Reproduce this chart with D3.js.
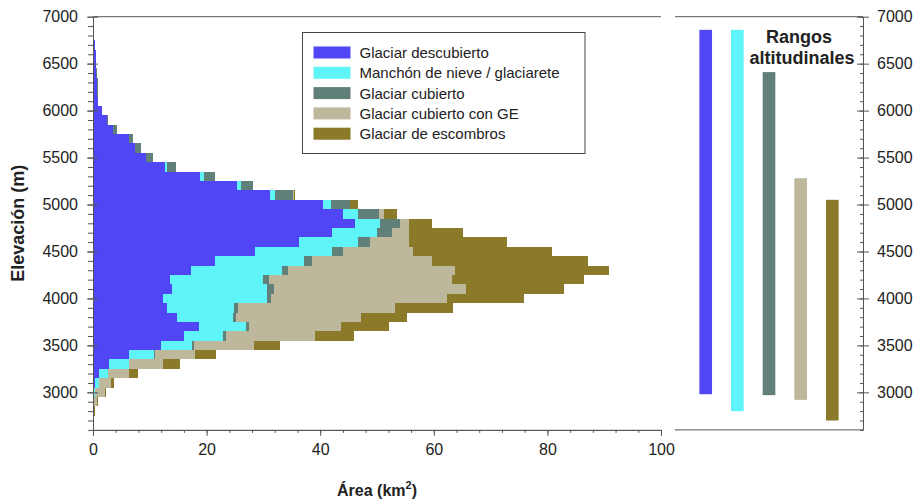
<!DOCTYPE html>
<html>
<head>
<meta charset="utf-8">
<script src="https://cdn.jsdelivr.net/npm/d3@7"></script>
<style>
  body { margin: 0; background: #fff; }
  svg text { font-family: "Liberation Sans", Arial, sans-serif; fill: #222; }
</style>
</head>
<body>
<svg id="chart" width="914" height="501"></svg>
<script>
// elevation bin centres (m), 100 m bins
const elevations = [2700, 2800, 2900, 3000, 3100, 3200, 3300, 3400, 3500, 3600, 3700, 3800, 3900,
  4000, 4100, 4200, 4300, 4400, 4500, 4600, 4700, 4800, 4900, 5000, 5100, 5200, 5300, 5400,
  5500, 5600, 5700, 5800, 5900, 6000, 6100, 6200, 6300, 6400, 6500, 6600, 6700, 6800, 6900]
const binStep = 100

// areas in km2, same order as elevations
const descubierto = [0, 0, 0, 0.1, 0.4, 1.0, 2.9, 6.4, 12.0, 16.1, 18.6, 14.8, 13.1,
  12.4, 13.9, 13.5, 17.3, 21.5, 28.6, 36.2, 42.1, 46.2, 44.0, 40.5, 31.2, 25.3, 18.9, 12.7,
  9.4, 7.4, 6.3, 3.6, 2.4, 1.5, 0.8, 0.7, 0.7, 0.6, 0.6, 0.5, 0.3, 0.2, 0.1]
const manchon = [0, 0.1, 0, 0.2, 0.6, 1.7, 3.5, 4.4, 5.4, 6.8, 8.3, 9.8, 11.8,
  18.2, 16.7, 16.5, 16.0, 15.6, 13.5, 10.4, 7.9, 4.3, 2.6, 1.4, 0.9, 0.7, 0.7, 0.4,
  0, 0, 0, 0, 0, 0, 0, 0, 0, 0, 0, 0, 0, 0, 0]
const cubierto = [0, 0, 0, 0, 0.1, 0, 0, 0.1, 0.4, 0.5, 0.5, 0.6, 0.7,
  0.7, 1.2, 0.9, 1.1, 1.5, 2.0, 2.2, 2.6, 3.5, 3.7, 3.3, 3.1, 2.1, 1.8, 1.5,
  1.1, 1.0, 0.7, 0.7, 0.2, 0.1, 0.1, 0.1, 0.1, 0.1, 0, 0, 0, 0, 0]
const cubiertoGE = [0, 0.1, 0.7, 1.9, 2.0, 3.7, 6.0, 7.1, 10.6, 15.7, 16.3, 22.0, 27.5,
  31.0, 33.9, 32.3, 29.4, 21.0, 12.3, 6.8, 3.0, 1.6, 0.9, 0.1, 0.1, 0.1, 0, 0,
  0, 0, 0, 0, 0, 0, 0, 0, 0, 0, 0, 0, 0, 0, 0]
const escombros = [0.1, 0.1, 0.1, 0.1, 0.6, 1.6, 3.0, 3.7, 4.6, 6.8, 8.5, 8.0, 10.3,
  13.6, 17.3, 23.3, 27.0, 27.5, 24.4, 17.2, 9.6, 4.0, 2.4, 1.3, 0.3, 0, 0, 0,
  0, 0, 0, 0, 0, 0, 0, 0, 0, 0, 0, 0, 0, 0, 0]

const categories = ["Glaciar descubierto", "Manchón de nieve / glaciarete", "Glaciar cubierto",
  "Glaciar cubierto con GE", "Glaciar de escombros"]
const colors = ["#5146f6", "#5ef4f8", "#62807a", "#bdb89c", "#8b7a2a"]

// altitudinal ranges (m) per category
const rangeTop = [6860, 6860, 6410, 5280, 5050]
const rangeBottom = [2980, 2800, 2970, 2920, 2700]

const xTicks = [0, 20, 40, 60, 80, 100]
const yTicks = [3000, 3500, 4000, 4500, 5000, 5500, 6000, 6500, 7000]

const svg = d3.select("#chart")
const axisColor = "#555"

const x = d3.scaleLinear().domain([0, 100]).range([93, 661])
const y = d3.scaleLinear().domain([2600, 7000]).range([429.9, 16.7])
const xr = d3.scaleBand().domain(categories).range([675, 863]).paddingInner(0.6).paddingOuter(0.77)

// stacked table
const table = elevations.map((e, i) => ({
  elev: e,
  [categories[0]]: descubierto[i],
  [categories[1]]: manchon[i],
  [categories[2]]: cubierto[i],
  [categories[3]]: cubiertoGE[i],
  [categories[4]]: escombros[i]
}))
const series = d3.stack().keys(categories)(table)

const area = d3.area()
  .y(p => y(p.e))
  .x0(p => x(p.x0))
  .x1(p => x(p.x1))

series.forEach((s, k) => {
  const pts = []
  s.forEach(d => {
    pts.push({e: d.data.elev - binStep / 2, x0: d[0], x1: d[1]})
    pts.push({e: d.data.elev + binStep / 2, x0: d[0], x1: d[1]})
  })
  svg.append("path")
    .attr("d", area(pts))
    .attr("fill", colors[k])
    .attr("shape-rendering", "crispEdges")
})

// range bars
svg.selectAll("rect.range")
  .data(categories)
  .enter().append("rect")
  .attr("class", "range")
  .attr("x", d => xr(d))
  .attr("width", xr.bandwidth())
  .attr("y", (d, i) => y(rangeTop[i]))
  .attr("height", (d, i) => y(rangeBottom[i]) - y(rangeTop[i]))
  .attr("fill", (d, i) => colors[i])

// frame lines
svg.append("line").attr("x1", x(0)).attr("x2", x(100)).attr("y1", y(7000)).attr("y2", y(7000))
  .attr("stroke", axisColor)
svg.append("line").attr("x1", 675).attr("x2", 863).attr("y1", y(7000)).attr("y2", y(7000))
  .attr("stroke", axisColor)
svg.append("line").attr("x1", 675).attr("x2", 863).attr("y1", y(2600)).attr("y2", y(2600))
  .attr("stroke", axisColor)

function styleAxis(g) {
  g.select(".domain").attr("stroke", axisColor)
  g.selectAll(".tick line").attr("stroke", axisColor)
  g.selectAll(".tick text").attr("font-size", 16).attr("fill", "#222")
    .attr("font-family", "'Liberation Sans', Arial, sans-serif")
}

const fmt = d3.format("d")

// left axis
svg.append("g").attr("transform", `translate(${x(0)},0)`)
  .call(d3.axisLeft(y).tickValues(d3.range(2600, 7001, 100)).tickSize(5).tickFormat("").tickSizeOuter(0))
  .call(styleAxis)
svg.append("g").attr("transform", `translate(${x(0)},0)`)
  .call(d3.axisLeft(y).tickValues(yTicks).tickSize(6).tickPadding(9).tickFormat(fmt).tickSizeOuter(0))
  .call(styleAxis)
  .call(g => g.selectAll(".tick line").attr("x1", 5))

// right axis
svg.append("g").attr("transform", "translate(863,0)")
  .call(d3.axisLeft(y).tickValues(d3.range(2600, 7001, 100)).tickSize(3).tickFormat("").tickSizeOuter(0))
  .call(styleAxis)
svg.append("g").attr("transform", "translate(863,0)")
  .call(d3.axisRight(y).tickValues(yTicks).tickSize(6).tickPadding(8).tickFormat(fmt).tickSizeOuter(0))
  .call(styleAxis)
  .call(g => g.selectAll(".tick line").attr("x1", -6))

// bottom axis
svg.append("g").attr("transform", `translate(0,${y(2600)})`)
  .call(d3.axisBottom(x).tickValues(d3.range(0, 101, 4)).tickSize(3).tickFormat("").tickSizeOuter(0))
  .call(styleAxis)
svg.append("g").attr("transform", `translate(0,${y(2600)})`)
  .call(d3.axisBottom(x).tickValues(xTicks).tickSize(6).tickPadding(8).tickFormat(fmt).tickSizeOuter(0))
  .call(styleAxis)

// axis titles
const xt = svg.append("text")
  .attr("x", (x(0) + x(100)) / 2).attr("y", 496)
  .attr("text-anchor", "middle").attr("font-size", 16).attr("font-weight", "bold")
xt.append("tspan").text("Área (km")
xt.append("tspan").text("2").attr("font-size", 11).attr("dy", -7)
xt.append("tspan").text(")").attr("dy", 7)

svg.append("text")
  .attr("transform", `translate(24,${(y(2600) + y(7000)) / 2}) rotate(-90)`)
  .attr("text-anchor", "middle").attr("font-size", 18).attr("font-weight", "bold")
  .text("Elevación (m)")

// right panel title
svg.append("text").attr("x", 799).attr("y", 43).attr("text-anchor", "middle")
  .attr("font-size", 18).attr("font-weight", "bold").text("Rangos")
svg.append("text").attr("x", 802).attr("y", 64).attr("text-anchor", "middle")
  .attr("font-size", 18).attr("font-weight", "bold").text("altitudinales")

// legend
const legend = svg.append("g").attr("transform", "translate(302.5,32.5)")
legend.append("rect").attr("width", 282.5).attr("height", 121)
  .attr("fill", "#fff").attr("stroke", "#444")
categories.forEach((c, i) => {
  const row = legend.append("g").attr("transform", `translate(0,${20 + i * 20.3})`)
  row.append("rect").attr("x", 11).attr("y", -6).attr("width", 37).attr("height", 12)
    .attr("fill", colors[i])
  row.append("text").attr("x", 57).attr("dy", "0.36em").attr("font-size", 15).text(c)
})
</script>
</body>
</html>
